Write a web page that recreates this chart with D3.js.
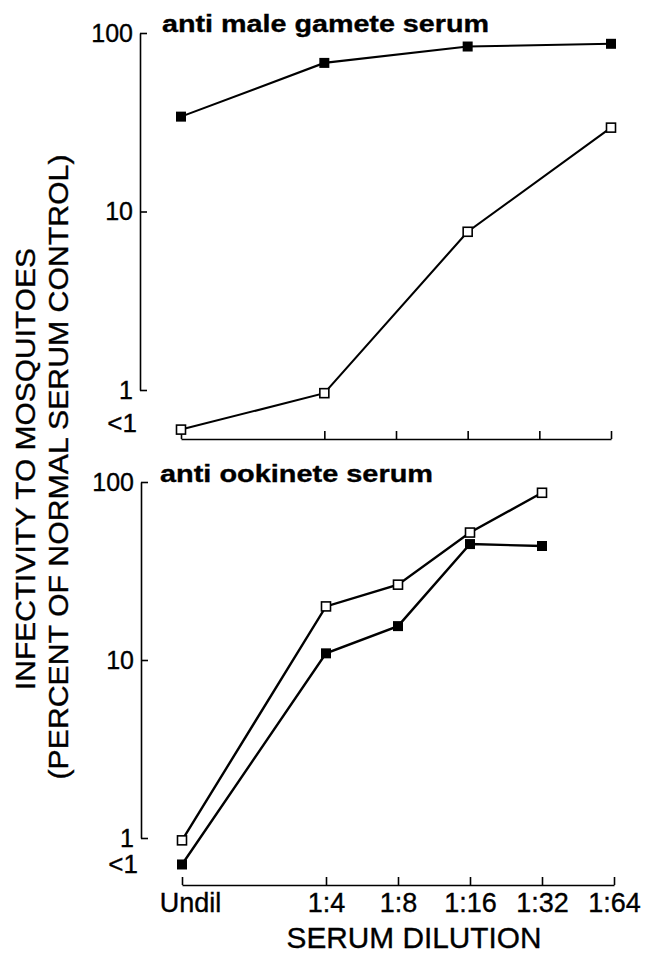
<!DOCTYPE html>
<html>
<head>
<meta charset="utf-8">
<script src="https://cdn.jsdelivr.net/npm/d3@7"></script>
<style>
  body { margin: 0; background: #fff; }
  text { font-family: "Liberation Sans", Arial, Helvetica, sans-serif; fill: #000; stroke: #000; stroke-width: 0.35px; }
</style>
</head>
<body>
<div id="chart"></div>
<script>
// dilution categories (x) and their dilution factors
const dilutions = ['Undil', '1:4', '1:8', '1:16', '1:32', '1:64']
const factors = [1, 4, 8, 16, 32, 64]

// y ticks (percent of normal serum control), "<1" sits below the 1 tick
const yTicks = [1, 10, 100]
const ltOneTop = 0.66
const ltOneBottom = 0.72

// anti male gamete serum
const gameteX = ['Undil', '1:4', '1:16', '1:64']
const gameteFilled = [34, 68, 84, 87]
const gameteOpen = [0.6, 0.96, 7.7, 29.5]

// anti ookinete serum
const ookX = ['Undil', '1:4', '1:8', '1:16', '1:32']
const ookOpen = [0.97, 20, 26.5, 52, 87]
const ookFilled = [0.71, 10.9, 15.5, 44.8, 43.7]

const W = 646, H = 955
const svg = d3.select('#chart').append('svg').attr('width', W).attr('height', H)

const factorOf = name => factors[dilutions.indexOf(name)]

function panel (opt) {
    const x = d3.scaleLog().base(2).domain([1, 64]).range([opt.x0, opt.x1])
    const y = d3.scaleLog().domain([1, 100]).range([opt.yBottom, opt.yTop])

    // y axis: ticks pointing inward, line from 1 to 100
    const yAxis = svg.append('g')
        .attr('transform', `translate(${opt.axisX},0)`)
        .call(d3.axisLeft(y).tickValues(yTicks).tickFormat(d3.format('d'))
            .tickSizeInner(-7).tickSizeOuter(0).tickPadding(7))
    yAxis.attr('font-family', null)
    yAxis.select('.domain').attr('stroke', '#000').attr('stroke-width', 1.6)
    yAxis.selectAll('.tick line').attr('stroke', '#000').attr('stroke-width', 1.6)
    yAxis.selectAll('.tick text').attr('font-size', 25).attr('fill', '#000')

    svg.append('text')
        .attr('x', opt.axisX - 3).attr('y', y(opt.ltOne))
        .attr('dy', '0.36em').attr('text-anchor', 'end')
        .attr('font-size', 26)
        .text('<1')

    // x axis: ticks pointing up
    const xAxis = svg.append('g')
        .attr('transform', `translate(0,${opt.axisY})`)
        .call(d3.axisBottom(x).tickValues(factors)
            .tickFormat((d, i) => opt.labels ? dilutions[i] : '')
            .tickSizeInner(-8).tickSizeOuter(0).tickPadding(8))
    xAxis.attr('font-family', null)
    xAxis.select('.domain').attr('stroke', '#000').attr('stroke-width', 1.6)
    xAxis.selectAll('.tick line').attr('stroke', '#000').attr('stroke-width', 1.6)
    xAxis.selectAll('.tick text').attr('font-size', 27).attr('fill', '#000')
        .attr('dx', (d, i) => i === 0 ? 8 : 0)

    // title
    svg.append('text')
        .attr('x', opt.titleX).attr('y', opt.titleY)
        .attr('font-size', 24).attr('font-weight', 'bold')
        .attr('textLength', opt.titleLen).attr('lengthAdjust', 'spacingAndGlyphs')
        .text(opt.title)

    const line = d3.line().x(d => x(factorOf(d[0]))).y(d => y(d[1]))

    opt.series.forEach(s => {
        const pts = s.xs.map((k, i) => [k, s.values[i]])
        svg.append('path').datum(pts)
            .attr('d', line).attr('fill', 'none')
            .attr('stroke', '#000').attr('stroke-width', opt.lineWidth)
    })
    opt.series.forEach(s => {
        const pts = s.xs.map((k, i) => [k, s.values[i]])
        const size = s.filled ? 10 : 9
        svg.selectAll(null).data(pts).enter().append('rect')
            .attr('x', d => x(factorOf(d[0])) - size / 2)
            .attr('y', d => y(d[1]) - size / 2)
            .attr('width', size).attr('height', size)
            .attr('fill', s.filled ? '#000' : '#fff')
            .attr('stroke', '#000').attr('stroke-width', s.filled ? 0 : 1.6)
    })
}

panel({
    x0: 181, x1: 611, axisX: 140, axisY: 439,
    yBottom: 390, yTop: 33, ltOne: ltOneTop,
    labels: false,
    title: 'anti male gamete serum', titleX: 162, titleY: 32, titleLen: 327,
    lineWidth: 2.1,
    series: [
        { xs: gameteX, values: gameteFilled, filled: true },
        { xs: gameteX, values: gameteOpen, filled: false }
    ]
})

panel({
    x0: 182, x1: 614, axisX: 141, axisY: 885,
    yBottom: 838, yTop: 482, ltOne: ltOneBottom,
    labels: true,
    title: 'anti ookinete serum', titleX: 160, titleY: 482, titleLen: 273,
    lineWidth: 2.4,
    series: [
        { xs: ookX, values: ookOpen, filled: false },
        { xs: ookX, values: ookFilled, filled: true }
    ]
})

// axis titles
svg.append('text')
    .attr('transform', 'translate(35,469) rotate(-90)')
    .attr('text-anchor', 'middle').attr('font-size', 28)
    .attr('textLength', 442).attr('lengthAdjust', 'spacingAndGlyphs')
    .text('INFECTIVITY  TO  MOSQUITOES')
svg.append('text')
    .attr('transform', 'translate(68,467) rotate(-90)')
    .attr('text-anchor', 'middle').attr('font-size', 28)
    .attr('textLength', 625).attr('lengthAdjust', 'spacingAndGlyphs')
    .text('(PERCENT OF NORMAL SERUM CONTROL)')
svg.append('text')
    .attr('x', 414).attr('y', 948)
    .attr('text-anchor', 'middle').attr('font-size', 29)
    .attr('textLength', 255).attr('lengthAdjust', 'spacingAndGlyphs')
    .text('SERUM DILUTION')
</script>
</body>
</html>
